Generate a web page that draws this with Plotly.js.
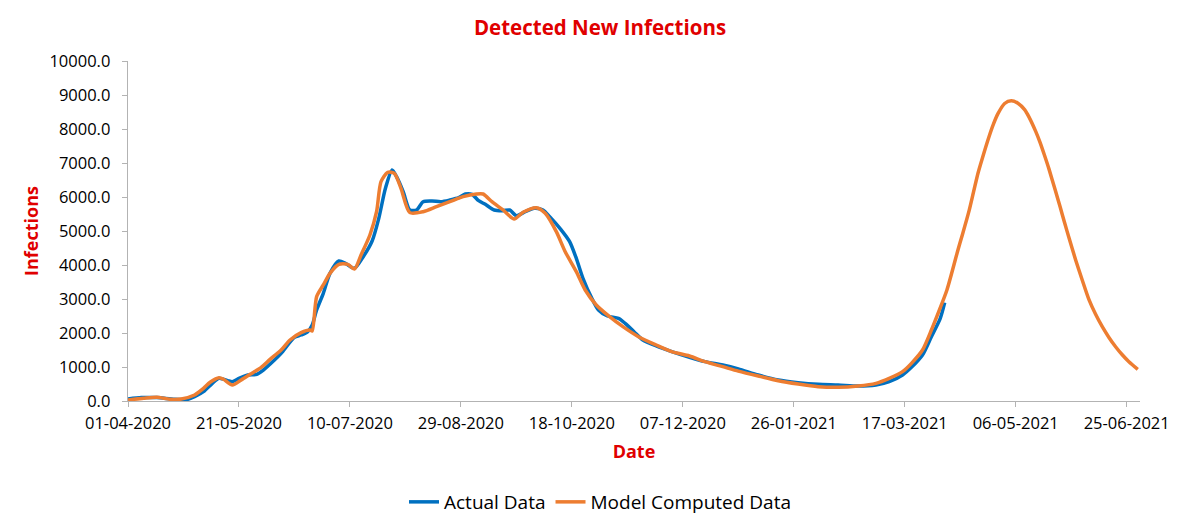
<!DOCTYPE html>
<html>
<head>
<meta charset="utf-8">
<script src="https://cdn.plot.ly/plotly-3.0.1.min.js"></script>
<style>html,body{margin:0;padding:0;background:#fff;}#chart{width:1200px;height:528px;}</style>
</head>
<body>
<div id="chart"></div>
<script>
// Actual (observed) series
const actualDates = ['2020-04-01','2020-04-07','2020-04-14','2020-04-22','2020-04-28','2020-05-01','2020-05-05','2020-05-09','2020-05-12','2020-05-16','2020-05-18','2020-05-21','2020-05-25','2020-05-29','2020-06-01','2020-06-06','2020-06-09','2020-06-15','2020-06-18','2020-06-21','2020-06-23','2020-06-25','2020-06-28','2020-07-01','2020-07-05','2020-07-08','2020-07-12','2020-07-16','2020-07-20','2020-07-23','2020-07-26','2020-07-29','2020-07-31','2020-08-03','2020-08-06','2020-08-09','2020-08-12','2020-08-16','2020-08-20','2020-08-24','2020-08-28','2020-08-31','2020-09-03','2020-09-06','2020-09-09','2020-09-13','2020-09-17','2020-09-20','2020-09-23','2020-09-27','2020-10-01','2020-10-05','2020-10-08','2020-10-13','2020-10-17','2020-10-20','2020-10-23','2020-10-27','2020-10-30','2020-11-03','2020-11-08','2020-11-11','2020-11-15','2020-11-19','2020-11-25','2020-12-02','2020-12-10','2020-12-17','2020-12-25','2021-01-01','2021-01-10','2021-01-19','2021-01-28','2021-02-06','2021-02-15','2021-02-24','2021-03-04','2021-03-10','2021-03-16','2021-03-20','2021-03-25','2021-03-29','2021-04-02','2021-04-04'];
const actualValues = [60,100,100,50,50,127,275,520,666,598,568,666,765,784,912,1206,1402,1873,1941,2039,2235,2676,3167,3755,4118,4050,3902,4245,4706,5373,6256,6794,6597,6156,5618,5618,5862,5882,5862,5912,5980,6088,6079,5892,5785,5618,5598,5618,5451,5568,5667,5618,5422,5049,4686,4196,3608,3020,2676,2500,2431,2284,2039,1794,1618,1451,1284,1157,1059,945,765,618,539,490,471,441,471,569,765,990,1353,1892,2431,2892];

// Model computed series
const modelDates = ['2020-04-01','2020-04-08','2020-04-14','2020-04-20','2020-04-25','2020-05-01','2020-05-05','2020-05-08','2020-05-12','2020-05-14','2020-05-18','2020-05-22','2020-05-26','2020-05-31','2020-06-04','2020-06-09','2020-06-13','2020-06-18','2020-06-22','2020-06-23','2020-06-25','2020-06-28','2020-07-01','2020-07-05','2020-07-09','2020-07-12','2020-07-15','2020-07-19','2020-07-22','2020-07-24','2020-07-27','2020-07-30','2020-08-02','2020-08-06','2020-08-12','2020-08-18','2020-08-24','2020-08-30','2020-09-05','2020-09-08','2020-09-12','2020-09-17','2020-09-22','2020-09-26','2020-10-02','2020-10-06','2020-10-11','2020-10-15','2020-10-20','2020-10-24','2020-10-29','2020-11-04','2020-11-10','2020-11-17','2020-11-25','2020-12-02','2020-12-10','2020-12-17','2020-12-25','2021-01-01','2021-01-10','2021-01-19','2021-01-28','2021-02-06','2021-02-15','2021-02-24','2021-03-04','2021-03-10','2021-03-16','2021-03-20','2021-03-25','2021-03-29','2021-04-01','2021-04-05','2021-04-10','2021-04-12','2021-04-15','2021-04-17','2021-04-19','2021-04-21','2021-04-24','2021-04-26','2021-04-28','2021-05-01','2021-05-04','2021-05-07','2021-05-10','2021-05-12','2021-05-15','2021-05-17','2021-05-19','2021-05-21','2021-05-24','2021-05-26','2021-05-28','2021-05-30','2021-06-02','2021-06-05','2021-06-08','2021-06-11','2021-06-14','2021-06-17','2021-06-20','2021-06-23','2021-06-26','2021-06-30'];
const modelValues = [30,80,110,50,60,176,370,550,686,640,470,618,784,990,1225,1500,1794,2010,2088,2060,3069,3412,3755,4020,4020,3882,4294,4882,5568,6450,6726,6697,6256,5540,5568,5715,5862,6009,6088,6088,5862,5618,5353,5550,5686,5520,4980,4392,3804,3265,2824,2480,2186,1892,1647,1451,1324,1157,1010,880,735,598,500,422,402,441,520,667,863,1108,1500,2088,2578,3265,4450,4900,5600,6150,6700,7150,7780,8150,8450,8750,8832,8760,8570,8350,7930,7600,7220,6820,6160,5710,5250,4800,4150,3550,2980,2550,2185,1870,1597,1360,1156,932];

// Axis ticks
const xTickVals = ['2020-04-01','2020-05-21','2020-07-10','2020-08-29','2020-10-18','2020-12-07','2021-01-26','2021-03-17','2021-05-06','2021-06-25'];
const xTickText = ['01-04-2020','21-05-2020','10-07-2020','29-08-2020','18-10-2020','07-12-2020','26-01-2021','17-03-2021','06-05-2021','25-06-2021'];

const FONT = 'Open Sans, Liberation Sans, sans-serif';
const RED = '#E00000';

const traces = [
  {x: actualDates, y: actualValues, name: 'Actual Data', type: 'scatter', mode: 'lines',
   line: {color: '#0070C0', width: 3.5, shape: 'spline', smoothing: 0.7}},
  {x: modelDates, y: modelValues, name: 'Model Computed Data', type: 'scatter', mode: 'lines',
   line: {color: '#ED7D31', width: 3.5, shape: 'spline', smoothing: 0.7}}
];

const layout = {
  width: 1200, height: 528,
  margin: {l: 128, r: 60, t: 61, b: 127},
  paper_bgcolor: '#fff', plot_bgcolor: '#fff',
  font: {family: FONT, size: 16, color: '#000'},
  title: {text: '<b>Detected New Infections</b>', font: {family: FONT, size: 20.5, color: RED},
          x: 0.5, xref: 'container', xanchor: 'center', y: 1 - 28/528, yref: 'container', yanchor: 'middle'},
  xaxis: {type: 'date', range: ['2020-04-01', '2021-07-01'], tickvals: xTickVals, ticktext: xTickText,
          showgrid: false, zeroline: false, showline: true, linecolor: '#b3b3b3', linewidth: 1.3,
          ticks: 'outside', ticklen: 5, tickcolor: '#b3b3b3', ticklabelstandoff: 2,
          tickfont: {family: FONT, size: 16.5, color: '#000'},
          title: {text: '<b>Date</b>', font: {family: FONT, size: 18, color: RED}, standoff: 12}},
  yaxis: {range: [0, 10000], dtick: 1000, tickformat: '.1f', showgrid: false, zeroline: false,
          showline: true, linecolor: '#b3b3b3', linewidth: 1.3, ticks: 'outside', ticklen: 5, tickcolor: '#b3b3b3',
          ticklabelstandoff: 8,
          tickfont: {family: FONT, size: 16.5, color: '#000'},
          title: {text: '<b>Infections</b>', font: {family: FONT, size: 18, color: RED}, standoff: 6}},
  legend: {orientation: 'h', x: 0.5, xref: 'container', xanchor: 'center', y: 1 - 502/528, yref: 'container', yanchor: 'middle',
           font: {family: FONT, size: 19, color: '#000'}, itemwidth: 30, traceorder: 'normal'},
  showlegend: true,
  hovermode: false
};

Plotly.newPlot('chart', traces, layout, {displayModeBar: false, staticPlot: true});
</script>
</body>
</html>
